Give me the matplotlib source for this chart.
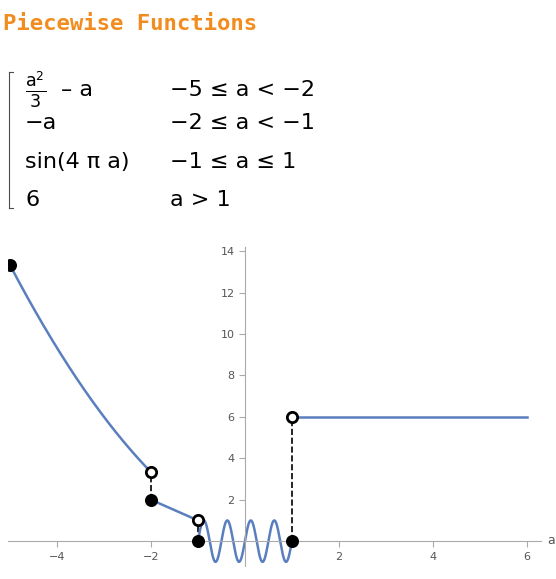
import numpy as np
import matplotlib
matplotlib.use("Agg")
import matplotlib.pyplot as plt

title = "Piecewise Functions"
pieces = ["−a", "sin(4 π a)", "6"]
conds = ["−5 ≤ a < −2", "−2 ≤ a < −1", "−1 ≤ a ≤ 1", "a > 1"]
filled_x = [-5, -2, -1, 1]
filled_y = [13.333, 2, 0, 0]
open_x = [-2, -1, 1]
open_y = [3.333, 1, 6]
xticks = [-4, -2, 2, 4, 6]
yticks = [2, 4, 6, 8, 10, 12, 14]
blue = "#5a7fbf"

fig = plt.figure(figsize=(5.56, 5.79), dpi=100)
fig.text(0.005, 0.975, title, color="#f28c1e", fontsize=16, fontweight="bold",
         family="DejaVu Sans Mono", va="top")

fs = 16
ys = [0.845, 0.787, 0.72, 0.655]
fig.text(0.045, ys[0], r"$\frac{\mathrm{a}^2}{3}$", fontsize=fs + 2, va="center")
fig.text(0.11, ys[0], "– a", fontsize=fs, va="center")
for y, p in zip(ys[1:], pieces):
    fig.text(0.045, y, p, fontsize=fs, va="center")
for y, c in zip(ys, conds):
    fig.text(0.305, y, c, fontsize=fs, va="center")
fig.add_artist(plt.Line2D([0.017, 0.017], [0.64, 0.875], color="0.3", lw=0.8))
fig.add_artist(plt.Line2D([0.017, 0.024], [0.875, 0.875], color="0.3", lw=0.8))
fig.add_artist(plt.Line2D([0.017, 0.024], [0.64, 0.64], color="0.3", lw=0.8))

ax = fig.add_axes([7.6 / 556, (579 - 566) / 579, (541 - 7.6) / 556, (566 - 247) / 579])
ax.set_xlim(-5.05, 6.3)
ax.set_ylim(-1.2, 14.2)

x1 = np.linspace(-5, -2, 200)
x2 = np.linspace(-2, -1, 50)
x3 = np.linspace(-1, 1, 600)
x4 = np.linspace(1, 6, 50)
for x, y in [(x1, x1**2 / 3 - x1), (x2, -x2), (x3, np.sin(4 * np.pi * x3)), (x4, 6 + 0 * x4)]:
    ax.plot(x, y, color=blue, lw=1.8, zorder=2)

for x0, y0 in zip(open_x, open_y):
    ax.plot([x0, x0], [0 if x0 != -2 else 2, y0], ls="--", color="black", lw=1.2, zorder=1)
ax.scatter(filled_x, filled_y, s=70, color="black", zorder=4)
ax.scatter(open_x, open_y, s=55, facecolor="white", edgecolor="black", lw=2, zorder=4)

for s in ["top", "right"]:
    ax.spines[s].set_visible(False)
ax.spines["left"].set_position(("data", 0))
ax.spines["bottom"].set_position(("data", 0))
for s in ["left", "bottom"]:
    ax.spines[s].set_color("#aaaaaa")
ax.set_xticks(xticks)
ax.set_yticks(yticks)
ax.tick_params(colors="#aaaaaa", labelcolor="#555555", labelsize=8, length=4)
fig.text(0.985, (579 - 541) / 579, "a", color="#555555", fontsize=9, va="center")
fig.savefig("out.png", dpi=100)
